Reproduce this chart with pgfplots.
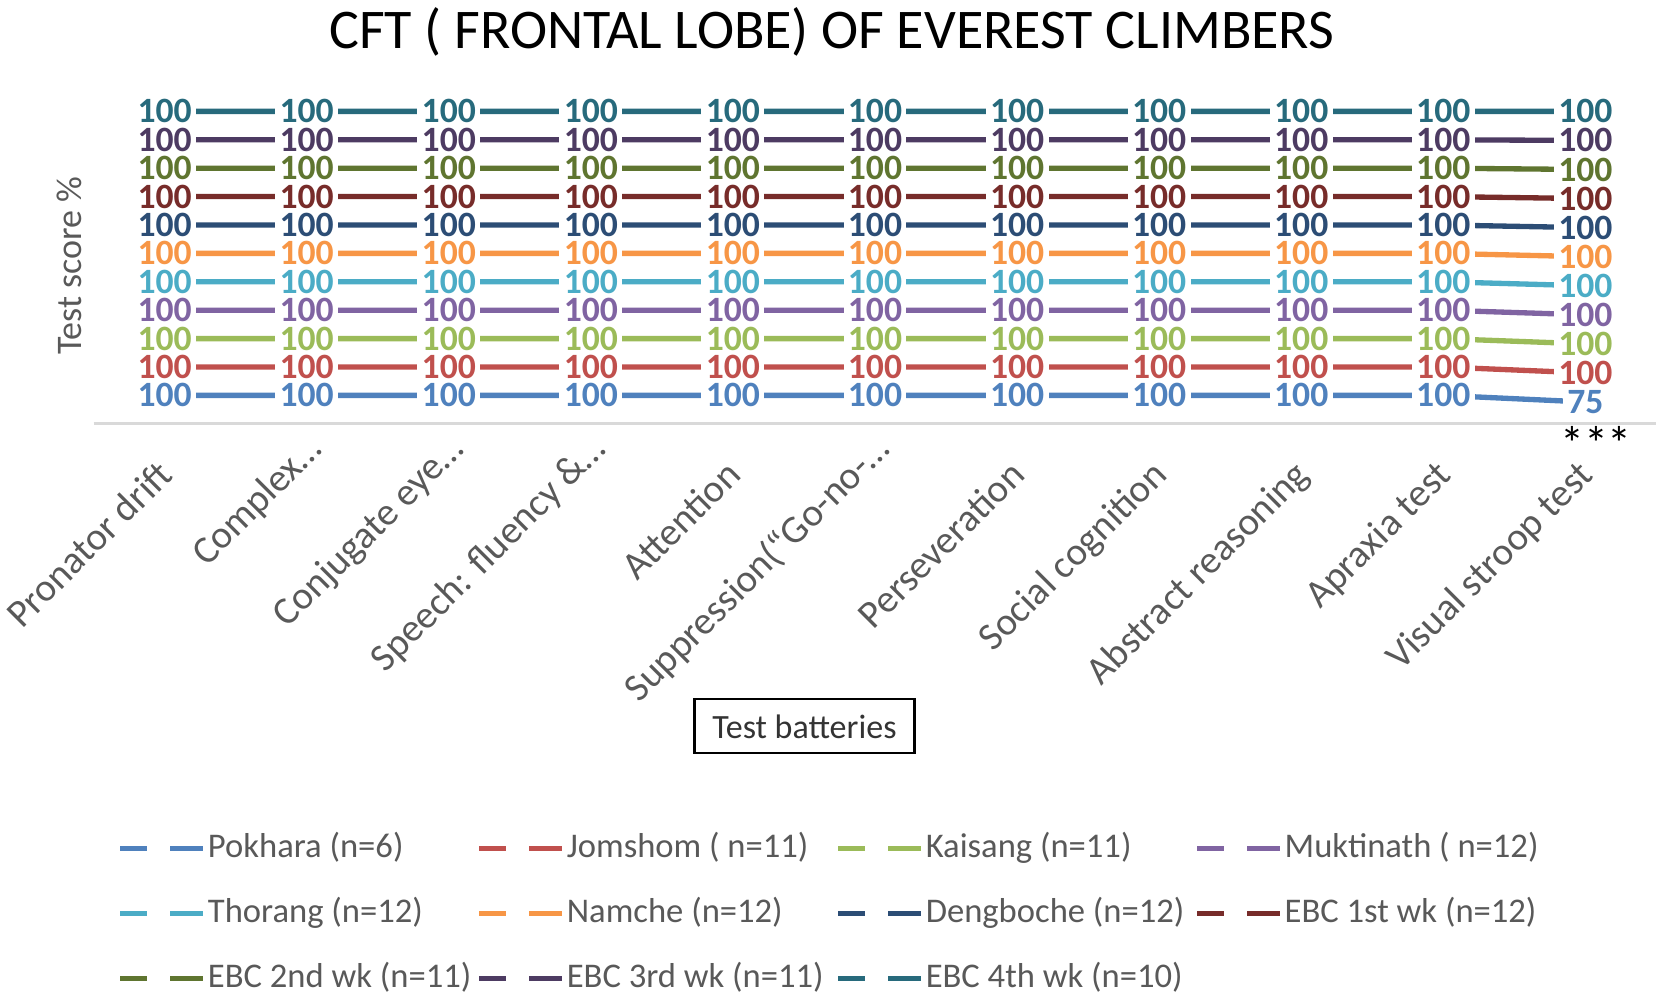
\documentclass[border=0pt]{standalone}
\usepackage{fontspec}
\setmainfont{Carlito}
\usepackage{pgfplots}
\pgfplotsset{compat=1.18}
\usepackage{pgfplotstable}
\definecolor{c1}{HTML}{4F81BD}
\definecolor{c2}{HTML}{C0504D}
\definecolor{c3}{HTML}{9BBB59}
\definecolor{c4}{HTML}{8064A2}
\definecolor{c5}{HTML}{4BACC6}
\definecolor{c6}{HTML}{F79646}
\definecolor{c7}{HTML}{2C4D75}
\definecolor{c8}{HTML}{772C2A}
\definecolor{c9}{HTML}{5F7530}
\definecolor{c10}{HTML}{4D3B62}
\definecolor{c11}{HTML}{276A7C}
\definecolor{lblgray}{HTML}{595959}
\definecolor{axgray}{HTML}{D9D9D9}
% test scores (%) per site; chart is a 100% stacked line chart
\pgfplotstableread{
x P J K M T N D Ea Eb Ec Ed
0 100 100 100 100 100 100 100 100 100 100 100
1 100 100 100 100 100 100 100 100 100 100 100
2 100 100 100 100 100 100 100 100 100 100 100
3 100 100 100 100 100 100 100 100 100 100 100
4 100 100 100 100 100 100 100 100 100 100 100
5 100 100 100 100 100 100 100 100 100 100 100
6 100 100 100 100 100 100 100 100 100 100 100
7 100 100 100 100 100 100 100 100 100 100 100
8 100 100 100 100 100 100 100 100 100 100 100
9 100 100 100 100 100 100 100 100 100 100 100
10 75 100 100 100 100 100 100 100 100 100 100
}\cft
\pgfplotstablecreatecol[create col/expr={\thisrow{P}+\thisrow{J}+\thisrow{K}+\thisrow{M}+\thisrow{T}+\thisrow{N}+\thisrow{D}+\thisrow{Ea}+\thisrow{Eb}+\thisrow{Ec}+\thisrow{Ed}}]{S}{\cft}
\newcommand{\legtext}[1]{\makebox[133.3pt][l]{#1}}
\newcommand{\trunc}[1]{\raisebox{6.7pt}{#1}\hspace*{-11.7pt}}
\begin{document}
\begin{tikzpicture}
\useasboundingbox (0,0) rectangle (832.5pt,500.5pt);
\begin{axis}[
  at={(46.8pt,288.6pt)}, anchor=south west,
  scale only axis, width=781.4pt, height=170.5pt,
  xmin=-0.5, xmax=10.5, ymin=0, ymax=109.15,
  clip=false,
  axis y line=none,
  axis x line=bottom,
  x axis line style={-, draw=axgray, line width=1.5pt},
  major tick length=0pt,
  ytick=\empty,
  xtick={0,...,10},
  xticklabels={{Pronator drift},{\trunc{Complex…}},{\trunc{Conjugate eye…}},{\trunc{Speech: fluency \&…}},{Attention},{\trunc{Suppression(“Go-no-…}},{Perseveration},{Social cognition},{Abstract reasoning},{Apraxia test},{Visual stroop test}},
  xticklabel style={xshift=5pt, yshift=-26.5pt, rotate=45, anchor=base east, font=\fontsize{19.5}{22}\selectfont, text=lblgray, inner sep=0pt},
  stack plots=y,
  point meta=explicit symbolic,
  nodes near coords,
  every node near coord/.append style={font=\bfseries\fontsize{17.8}{20}\selectfont, anchor=center, fill=white, inner xsep=2.2pt, inner ysep=0.5pt},
  every axis plot/.append style={line width=2.66pt, mark=none},
  legend columns=4,
  legend cell align=left,
  legend style={at={(axis description cs:0.0151,-1.1935)}, anchor=north west, draw=none, inner sep=0pt,
    font=\fontsize{17.3}{20}\selectfont, text=lblgray,
    nodes={inner xsep=1pt, inner ysep=0pt, text height=13pt, text depth=4.5pt},
    row sep=15pt, /tikz/every even column/.append style={column sep=0pt}},
  legend image code/.code={\draw[line width=2.66pt] (0pt,0pt) -- (13.3pt,0pt); \draw[line width=2.66pt] (25pt,0pt) -- (41.5pt,0pt);},
]
\addplot[c1] table[x=x, y expr={100*\thisrow{P}/\thisrow{S}}, meta=P] {\cft};
\addlegendentry{\legtext{Pokhara (n=6)}}
\addplot[c2] table[x=x, y expr={100*\thisrow{J}/\thisrow{S}}, meta=J] {\cft};
\addlegendentry{\legtext{Jomshom ( n=11)}}
\addplot[c3] table[x=x, y expr={100*\thisrow{K}/\thisrow{S}}, meta=K] {\cft};
\addlegendentry{\legtext{Kaisang (n=11)}}
\addplot[c4] table[x=x, y expr={100*\thisrow{M}/\thisrow{S}}, meta=M] {\cft};
\addlegendentry{\legtext{Muktinath ( n=12)}}
\addplot[c5] table[x=x, y expr={100*\thisrow{T}/\thisrow{S}}, meta=T] {\cft};
\addlegendentry{\legtext{Thorang (n=12)}}
\addplot[c6] table[x=x, y expr={100*\thisrow{N}/\thisrow{S}}, meta=N] {\cft};
\addlegendentry{\legtext{Namche (n=12)}}
\addplot[c7] table[x=x, y expr={100*\thisrow{D}/\thisrow{S}}, meta=D] {\cft};
\addlegendentry{\legtext{Dengboche (n=12)}}
\addplot[c8] table[x=x, y expr={100*\thisrow{Ea}/\thisrow{S}}, meta=Ea] {\cft};
\addlegendentry{\legtext{EBC 1st wk (n=12)}}
\addplot[c9] table[x=x, y expr={100*\thisrow{Eb}/\thisrow{S}}, meta=Eb] {\cft};
\addlegendentry{\legtext{EBC 2nd wk (n=11)}}
\addplot[c10] table[x=x, y expr={100*\thisrow{Ec}/\thisrow{S}}, meta=Ec] {\cft};
\addlegendentry{\legtext{EBC 3rd wk (n=11)}}
\addplot[c11] table[x=x, y expr={100*\thisrow{Ed}/\thisrow{S}}, meta=Ed] {\cft};
\addlegendentry{\legtext{EBC 4th wk (n=10)}}
\end{axis}
\node[font=\fontsize{28}{32}\selectfont] at (416pt,484.7pt) {CFT ( FRONTAL LOBE) OF EVEREST CLIMBERS};
\node[rotate=90, font=\fontsize{18}{21}\selectfont, text=lblgray] at (34.6pt,367.6pt) {Test score \%};
\node[draw=black, line width=1.1pt, minimum width=110pt, minimum height=27pt, font=\fontsize{17}{20}\selectfont, text=black!80] at (402.2pt,137.3pt) {Test batteries};
\node[anchor=north, inner sep=0pt, font=\fontsize{24}{26}\selectfont] at (798pt,287.3pt) {***};
\end{tikzpicture}
\end{document}
